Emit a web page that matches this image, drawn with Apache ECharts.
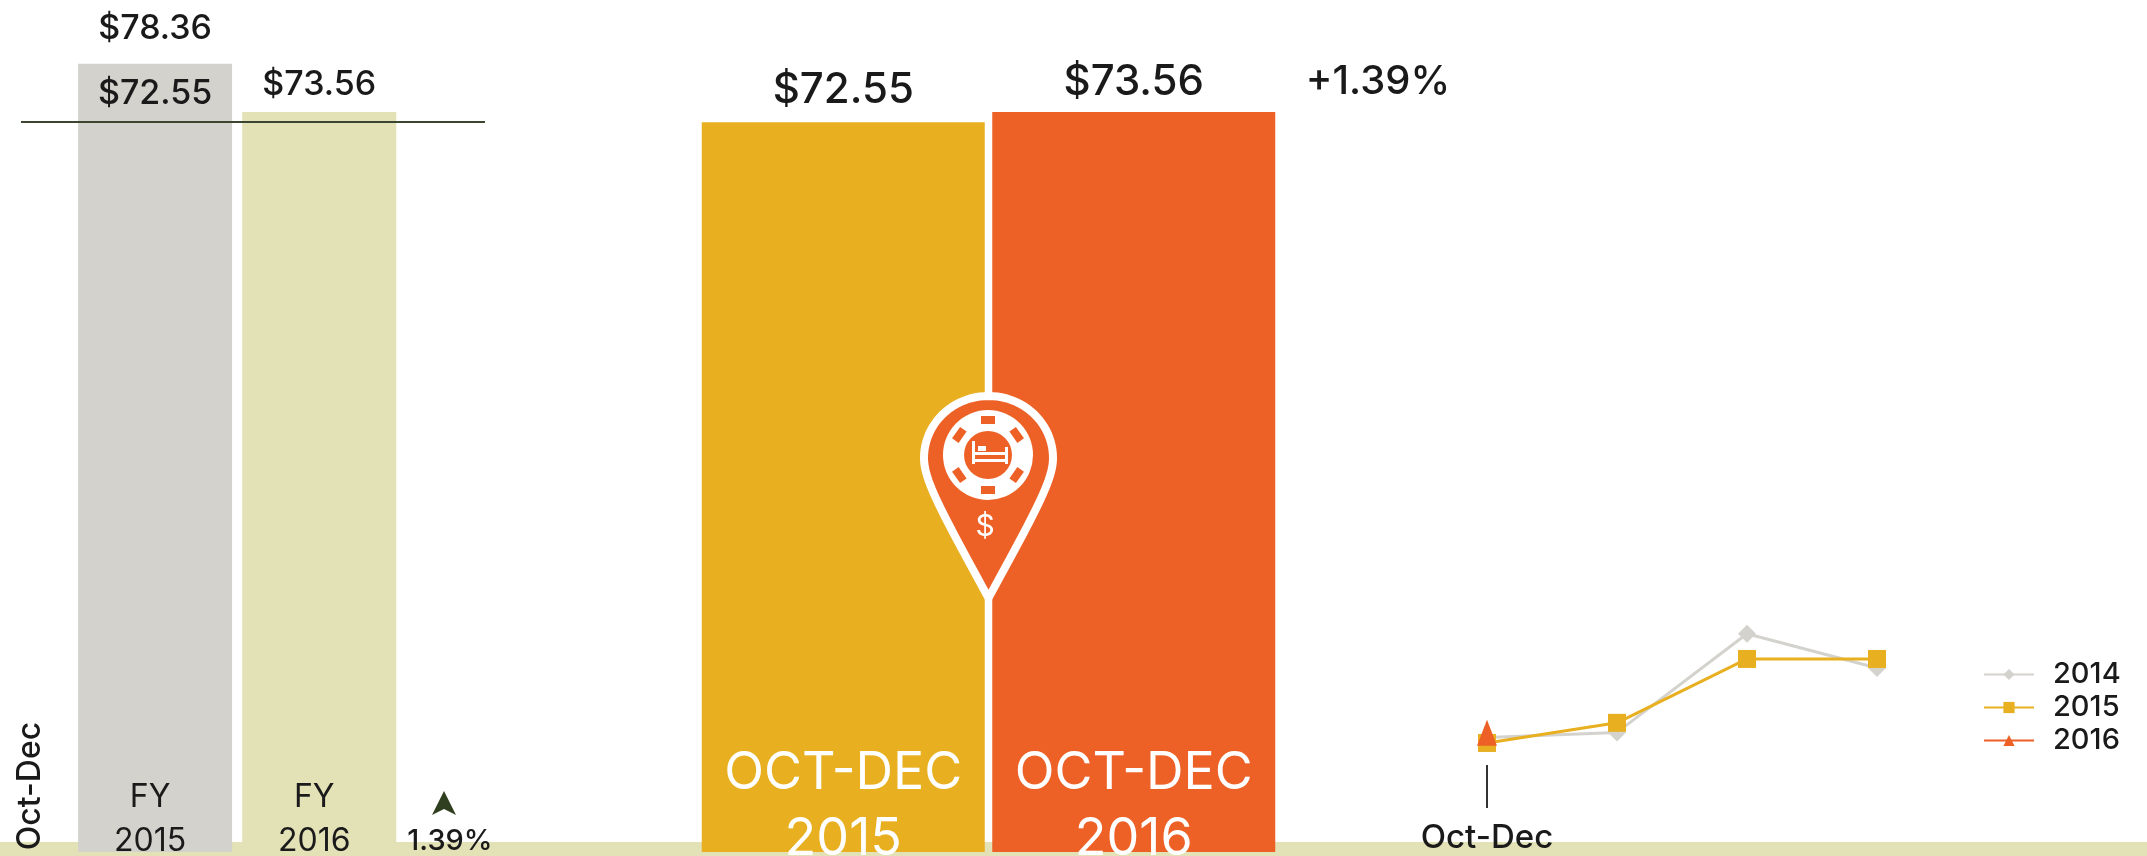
<!DOCTYPE html>
<html><head><meta charset="utf-8">
<style>html,body{margin:0;padding:0;background:#fff}#c{width:2147px;height:856px}</style>
<script src="https://cdn.jsdelivr.net/npm/echarts@6/dist/echarts.min.js"></script>
</head><body><div id="c"></div>
<script>
const fyPositions = [1, 2];
const fyYears = ['2015', '2016'];
const fyValues = [78.36, 73.56];
const fyReference = 72.55;
const quarterCategories = ['Oct-Dec', 'Jan-Mar', 'Apr-Jun', 'Jul-Sep'];
const quarterNames = ['OCT-DEC\n2015', 'OCT-DEC\n2016'];
const quarterValues = [72.55, 73.56];
const series2014 = [73.1, 73.6, 83.4, 80.0];
const series2015 = [72.55, 74.55, 80.9, 80.9];
const series2016 = [73.56];
const changeText = '+1.39%';
const changeSmall = '1.39%';

const FONT = 'Inter';
const GRAY='#d3d2cd', KHAKI='#e3e1b6', GOLD='#e8b021', ORANGE='#ee6126', INK='#1a1a1a';
const money = v => '$' + v.toFixed(2);
const chart = echarts.init(document.getElementById('c'));

const g = [];
const txt = (t,x,y,size,opts={}) => g.push({type:'text',z:opts.z||50,x,y,rotation:opts.rotation||0,
  style:{text:t,fill:opts.fill||INK,font:`${opts.weight||500} ${size}px ${FONT}`,align:'center',verticalAlign:'middle'}});
g.push({type:'rect',z:-10,shape:{x:0,y:842,width:2147,height:14},style:{fill:KHAKI}});
txt('Oct-Dec',30,786,32,{rotation:Math.PI/2});
g.push({type:'polygon',z:50,shape:{points:[[444,791],[456,815],[444,809],[432,815]]},style:{fill:'#2f3f1f'}});
txt(changeSmall,450,841,29);
txt(changeText,1378,82,40);
// pin outline, sampled from cubic curves
const bez=(p0,p1,p2,p3,n=24)=>Array.from({length:n},(_,i)=>{const t=i/n,u=1-t;
  return [u*u*u*p0[0]+3*u*u*t*p1[0]+3*u*t*t*p2[0]+t*t*t*p3[0],u*u*u*p0[1]+3*u*u*t*p1[1]+3*u*t*t*p2[1]+t*t*t*p3[1]];});
const pinCx=988.5, pinTop=396, pinTip=598, pinHalf=64.5;
const pinPts=[
  ...bez([pinCx,pinTop],[pinCx+36,pinTop],[pinCx+pinHalf,pinTop+28],[pinCx+pinHalf,pinTop+62]),
  ...bez([pinCx+pinHalf,pinTop+62],[pinCx+pinHalf,pinTop+84],[pinCx+48,pinTop+114],[pinCx,pinTip]),
  ...bez([pinCx,pinTip],[pinCx-48,pinTop+114],[pinCx-pinHalf,pinTop+84],[pinCx-pinHalf,pinTop+62]),
  ...bez([pinCx-pinHalf,pinTop+62],[pinCx-pinHalf,pinTop+28],[pinCx-36,pinTop],[pinCx,pinTop])];
g.push({type:'polygon',z:60,shape:{points:pinPts},style:{fill:ORANGE,stroke:'#fff',lineWidth:8}});
g.push({type:'circle',z:61,shape:{cx:988,cy:455,r:45},style:{fill:'#fff'}});
g.push({type:'circle',z:62,shape:{cx:988,cy:455,r:24},style:{fill:ORANGE}});
[0,55,125,180,235,305].forEach(a=>{const t=a*Math.PI/180;
  g.push({type:'rect',z:62,x:988+35*Math.sin(t),y:455-35*Math.cos(t),rotation:-t,shape:{x:-7,y:-4,width:14,height:8},style:{fill:ORANGE}});});
[[972,441,3,23],[1005,447,3,17],[975,452,30,3],[975,459,30,3],[978,446,8,5]].forEach(r=>
  g.push({type:'rect',z:63,shape:{x:r[0],y:r[1],width:r[2],height:r[3]},style:{fill:'#fff'}}));
txt('$',985,527,30,{fill:'#fff',z:63,weight:400});

const Y_MAX = 84.69;
const option = {
  animation:false, backgroundColor:'#fff',
  textStyle:{fontFamily:FONT},
  graphic:g,
  grid:[
    {left:21,top:0,width:464,height:852,outerBoundsMode:'none'},
    {left:698,top:0,width:581,height:852,outerBoundsMode:'none'},
    {left:1422,top:600,width:520,height:165,outerBoundsMode:'none'}
  ],
  xAxis:[
    {gridIndex:0,type:'value',min:0.183,max:3.01,z:10,splitLine:{show:false},axisLine:{show:false},axisTick:{show:false},
     axisLabel:{inside:true,margin:-11,customValues:fyPositions,color:INK,fontFamily:FONT,fontSize:32,lineHeight:44,align:'center',padding:[0,10,0,0],
       formatter:(v)=>'FY\n'+fyYears[fyPositions.indexOf(v)]}},
    {gridIndex:1,type:'category',data:quarterNames,z:10,axisLine:{show:false},axisTick:{show:false},
     axisLabel:{inside:true,margin:-20,color:'#fff',fontFamily:FONT,fontSize:52,lineHeight:66,interval:0}},
    {gridIndex:2,type:'category',data:quarterCategories,axisLine:{show:false},
     axisTick:{show:true,length:43,alignWithLabel:true,customValues:[0],lineStyle:{color:'#333',width:2}},
     axisLabel:{margin:57,color:INK,fontFamily:FONT,fontWeight:500,fontSize:33,interval:0,formatter:(v,i)=>i===0?v:''}}
  ],
  yAxis:[
    {gridIndex:0,type:'value',min:0,max:Y_MAX,show:false},
    {gridIndex:1,type:'value',min:0,max:Y_MAX,show:false},
    {gridIndex:2,type:'value',min:70.36,max:86.76,show:false}
  ],
  legend:{orient:'vertical',left:1978,top:655,itemWidth:50,itemHeight:14,itemGap:4,
    data:['2014','2015','2016'],textStyle:{fontFamily:FONT,fontWeight:500,fontSize:29,color:INK,padding:[0,0,0,14]}},
  series:[
    {type:'bar',xAxisIndex:0,yAxisIndex:0,barWidth:154,silent:true,
     data:[{value:[fyPositions[0],fyValues[0]],itemStyle:{color:GRAY}},{value:[fyPositions[1],fyValues[1]],itemStyle:{color:KHAKI},label:{distance:10}}],
     label:{show:true,position:'top',distance:18,fontSize:34,fontWeight:500,color:INK,fontFamily:FONT,formatter:p=>money(p.value[1])},
     markLine:{silent:true,symbol:'none',label:{show:false},lineStyle:{color:'#3b4630',width:2,type:'solid'},data:[{yAxis:fyReference}]}},
    {type:'scatter',xAxisIndex:0,yAxisIndex:0,symbolSize:0,silent:true,itemStyle:{opacity:1},data:[[fyPositions[0],fyReference]],
     label:{show:true,position:'top',distance:11,fontSize:34,fontWeight:500,color:INK,fontFamily:FONT,formatter:p=>money(p.value[1])}},
    {type:'bar',xAxisIndex:1,yAxisIndex:1,barWidth:283,silent:true,
     data:[{value:quarterValues[0],itemStyle:{color:GOLD},label:{distance:11}},{value:quarterValues[1],itemStyle:{color:ORANGE},label:{distance:9}}],
     label:{show:true,position:'top',distance:12,fontSize:42,fontWeight:500,color:INK,fontFamily:FONT,formatter:p=>money(p.value)}},
    {name:'2014',type:'line',xAxisIndex:2,yAxisIndex:2,data:series2014,color:GRAY,symbol:'diamond',symbolSize:18,lineStyle:{width:3},z:3},
    {name:'2015',type:'line',xAxisIndex:2,yAxisIndex:2,data:series2015,color:GOLD,symbol:'rect',symbolSize:18,lineStyle:{width:3},z:4},
    {name:'2016',type:'line',xAxisIndex:2,yAxisIndex:2,data:series2016,color:ORANGE,symbol:'triangle',symbolSize:[20,26],lineStyle:{width:3},z:20}
  ]
};
chart.setOption(option);
</script></body></html>
